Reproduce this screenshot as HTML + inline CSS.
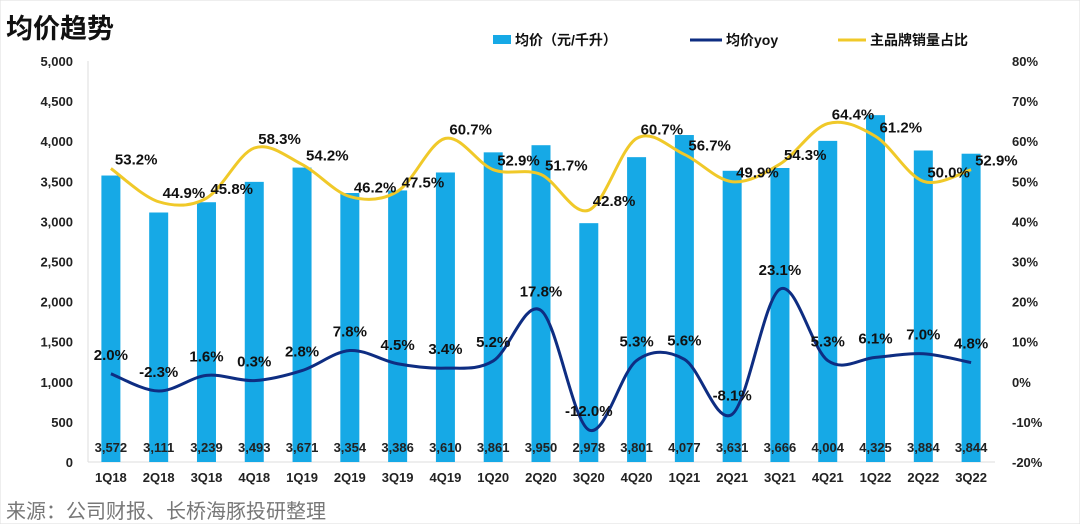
<!DOCTYPE html>
<html><head><meta charset="utf-8">
<style>
body{margin:0;background:#fff;width:1080px;height:524px;overflow:hidden;font-family:"Liberation Sans","Noto Sans CJK SC",sans-serif;}
svg text{font-family:"Liberation Sans","Noto Sans CJK SC",sans-serif;}
</style></head><body>
<svg id="chart" width="1080" height="524" xmlns="http://www.w3.org/2000/svg">
<rect x="0" y="0" width="1080" height="524" fill="#fff" stroke="#ddd"/>
<text x="6" y="38" font-size="27" font-weight="bold" fill="#111">均价趋势</text>
<g>
<g><rect x="493" y="35" width="18" height="9" fill="#16a9e6"/><text x="515" y="45" font-size="14" font-weight="bold" fill="#111">均价（元/千升）</text></g>
<g><line x1="690" y1="40" x2="722" y2="40" stroke="#0e2d82" stroke-width="3"/><text x="726" y="45" font-size="14" font-weight="bold" fill="#111">均价yoy</text></g>
<g><line x1="838" y1="40" x2="866" y2="40" stroke="#f0c929" stroke-width="3"/><text x="870" y="45" font-size="14" font-weight="bold" fill="#111">主品牌销量占比</text></g>
</g>
<g id="axes"></g>
<g id="bars"></g>
<g id="lines"></g>
<text x="6" y="518" font-size="20" fill="#777">来源：公司财报、长桥海豚投研整理</text>
</svg>
<script>
const categories=["1Q18","2Q18","3Q18","4Q18","1Q19","2Q19","3Q19","4Q19","1Q20","2Q20","3Q20","4Q20","1Q21","2Q21","3Q21","4Q21","1Q22","2Q22","3Q22"];
const prices=[3572,3111,3239,3493,3671,3354,3386,3610,3861,3950,2978,3801,4077,3631,3666,4004,4325,3884,3844];
const yoy=[2.0,-2.3,1.6,0.3,2.8,7.8,4.5,3.4,5.2,17.8,-12.0,5.3,5.6,-8.1,23.1,5.3,6.1,7.0,4.8];
const share=[53.2,44.9,45.8,58.3,54.2,46.2,47.5,60.7,52.9,51.7,42.8,60.7,56.7,49.9,54.3,64.4,61.2,50.0,52.9];
const leftTicks=[0,500,1000,1500,2000,2500,3000,3500,4000,4500,5000];
const rightTicks=[-20,-10,0,10,20,30,40,50,60,70,80];

const NS="http://www.w3.org/2000/svg";
const yTop=61,yBot=462,x0=87,x1=995;
const yL=v=>yBot-(v/5000)*(yBot-yTop);
const yR=v=>yBot-((v+20)/100)*(yBot-yTop);
const step=(x1-x0)/categories.length;
const xC=i=>x0+step*(i+0.5);
function el(tag,attrs,parent,txt){const e=document.createElementNS(NS,tag);for(const k in attrs)e.setAttribute(k,attrs[k]);if(txt!==undefined)e.textContent=txt;parent.appendChild(e);return e;}
const axes=document.getElementById('axes'),bars=document.getElementById('bars'),lines=document.getElementById('lines');
let a=el('line',{x1:x0+1,y1:yTop,x2:x0+1,y2:yBot,stroke:'#ddd'},axes);


a=el('line',{x1:x0+1,y1:yBot,x2:x1,y2:yBot,stroke:'#ddd'},axes);


leftTicks.forEach(v=>{const t=el('text',{x:73,y:yL(v)+5,'text-anchor':'end','font-size':13,'font-weight':'bold',fill:'#222'},axes,v.toLocaleString('en-US'));

});
rightTicks.forEach(v=>{const t=el('text',{x:1012,y:yR(v)+5,'font-size':13,'font-weight':'bold',fill:'#222'},axes,v+'%');

});
categories.forEach((c,i)=>{const t=el('text',{x:xC(i),y:482,'text-anchor':'middle','font-size':13,'font-weight':'bold',fill:'#222'},axes,c);

});
prices.forEach((v,i)=>{const r=el('rect',{x:xC(i)-9.5,y:yL(v),width:19,height:yBot-yL(v),fill:'#16a9e6'},bars);


const t=el('text',{x:xC(i),y:452,'text-anchor':'middle','font-size':13,'font-weight':'bold',fill:'#222'},bars,v.toLocaleString('en-US'));

});
function smooth(pts){let d='M'+pts[0][0]+','+pts[0][1];for(let i=0;i<pts.length-1;i++){const p0=pts[i-1]||pts[i],p1=pts[i],p2=pts[i+1],p3=pts[i+2]||p2;const c1=[p1[0]+(p2[0]-p0[0])/6,p1[1]+(p2[1]-p0[1])/6],c2=[p2[0]-(p3[0]-p1[0])/6,p2[1]-(p3[1]-p1[1])/6];d+=' C'+c1+' '+c2+' '+p2;}return d;}
let p=el('path',{d:smooth(share.map((v,i)=>[xC(i),yR(v)])),fill:'none',stroke:'#f0c929','stroke-width':3},lines);


p=el('path',{d:smooth(yoy.map((v,i)=>[xC(i),yR(v)])),fill:'none',stroke:'#0e2d82','stroke-width':3},lines);


share.forEach((v,i)=>{const t=el('text',{x:xC(i)+4,y:yR(v)-4,'font-size':15,'font-weight':'bold',fill:'#111'},lines,v.toFixed(1)+'%');

});
yoy.forEach((v,i)=>{const t=el('text',{x:xC(i),y:yR(v)-14,'text-anchor':'middle','font-size':15,'font-weight':'bold',fill:'#111'},lines,v.toFixed(1)+'%');

});
</script>
</body></html>
